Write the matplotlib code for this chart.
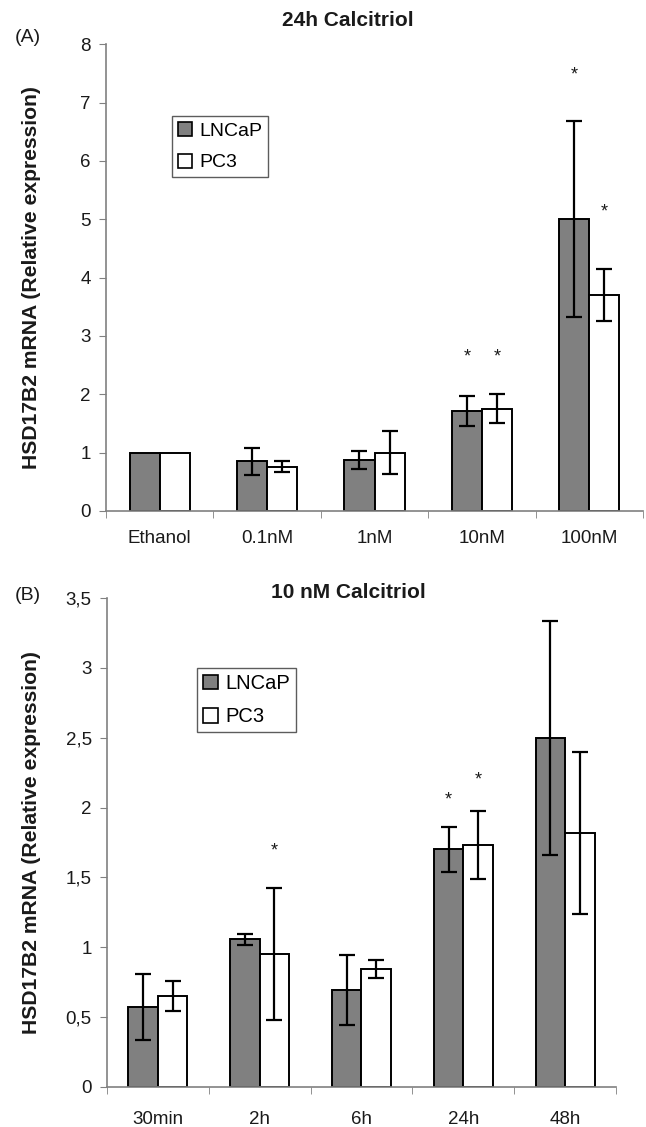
import numpy as np
import matplotlib
matplotlib.use("Agg")
import matplotlib.pyplot as plt

plt.rcParams['font.family'] = ['Liberation Sans', 'DejaVu Sans']

# (A) 24h calcitriol dose response
dose_labels = ["Ethanol", "0.1nM", "1nM", "10nM", "100nM"]
dose_lncap = [1.00, 0.85, 0.88, 1.71, 5.00]
dose_lncap_err = [0.0, 0.23, 0.155, 0.26, 1.68]
dose_pc3 = [1.00, 0.76, 1.00, 1.75, 3.70]
dose_pc3_err = [0.0, 0.09, 0.37, 0.25, 0.44]
# significance stars: (category index, series, height)
dose_stars = [(3, 0, 2.64), (3, 1, 2.64), (4, 0, 7.47), (4, 1, 5.13)]

# (B) 10 nM calcitriol time course
time_labels = ["30min", "2h", "6h", "24h", "48h"]
time_lncap = [0.57, 1.055, 0.69, 1.70, 2.50]
time_lncap_err = [0.235, 0.04, 0.25, 0.16, 0.84]
time_pc3 = [0.65, 0.95, 0.84, 1.73, 1.82]
time_pc3_err = [0.11, 0.475, 0.065, 0.245, 0.58]
time_stars = [(1, 1, 1.69), (3, 0, 2.055), (3, 1, 2.20)]

AXIS_GREY = "#808080"
TEXT_COL = "#1a1a1a"


def draw_panel(ax, labels, lncap, lncap_err, pc3, pc3_err, stars, width,
               ymax, yticks, yticklabels, legend_anchor, legend_size,
               label_x, xpad):
    x = np.arange(len(labels))
    ekw = dict(ecolor="black", elinewidth=1.6, capsize=5.5, capthick=1.6)
    ax.bar(x - width / 2, lncap, width, color="#808080", edgecolor="black",
           linewidth=1.4, label="LNCaP", zorder=2)
    ax.bar(x + width / 2, pc3, width, color="white", edgecolor="black",
           linewidth=1.4, label="PC3", zorder=2)
    # only draw error bars where there is spread
    for xs, vals, errs in ((x - width / 2, lncap, lncap_err),
                           (x + width / 2, pc3, pc3_err)):
        xs = np.asarray(xs)
        vals = np.asarray(vals)
        errs = np.asarray(errs)
        m = errs > 0
        ax.errorbar(xs[m], vals[m], yerr=errs[m], fmt="none", zorder=3, **ekw)

    for idx, series, h in stars:
        xpos = idx - width / 2 if series == 0 else idx + width / 2
        ax.text(xpos, h, "*", ha="center", va="center", fontsize=13,
                color=TEXT_COL)

    ax.set_xlim(-0.5, len(labels) - 0.5)
    ax.set_ylim(0, ymax)
    ax.set_xticks(x)
    ax.set_xticklabels(labels, fontsize=13.5, color=TEXT_COL)
    ax.tick_params(axis="x", which="major", length=0, pad=xpad)
    ax.set_xticks(np.arange(len(labels) + 1) - 0.5, minor=True)
    ax.tick_params(axis="x", which="minor", length=5, color=AXIS_GREY,
                   direction="out")
    ax.set_yticks(yticks)
    ax.set_yticklabels(yticklabels, fontsize=13.5, color=TEXT_COL)
    ax.tick_params(axis="y", length=5, color=AXIS_GREY, direction="out",
                   pad=6)

    for side in ("top", "right"):
        ax.spines[side].set_visible(False)
    for side in ("left", "bottom"):
        ax.spines[side].set_color(AXIS_GREY)
        ax.spines[side].set_linewidth(1.2)

    ax.set_ylabel("HSD17B2 mRNA (Relative expression)", fontsize=15.2,
                  fontweight="bold", color=TEXT_COL)
    ax.yaxis.set_label_coords(label_x, 0.5)

    leg = ax.legend(loc="upper left", bbox_to_anchor=legend_anchor,
                    borderaxespad=0, fancybox=False, fontsize=legend_size,
                    handlelength=0.75, handleheight=0.75, handletextpad=0.35,
                    labelspacing=0.7, borderpad=0.3)
    leg.get_frame().set_edgecolor("#333333")
    leg.get_frame().set_linewidth(1.0)
    for h in leg.legend_handles:
        h.set_linewidth(1.2)


fig = plt.figure(figsize=(6.46, 11.27), dpi=100)

ax_a = fig.add_axes([0.1641, 0.5466, 0.8313, 0.4141])
draw_panel(ax_a, dose_labels, dose_lncap, dose_lncap_err, dose_pc3,
           dose_pc3_err, dose_stars, 0.28, 8, range(9),
           [str(v) for v in range(9)], (0.123, 0.846), 14, -0.121, 14)

ax_b = fig.add_axes([0.1656, 0.0358, 0.7879, 0.4334])
b_ticks = np.arange(0, 3.51, 0.5)
b_labels = [("%g" % v).replace(".", ",") for v in b_ticks]
draw_panel(ax_b, time_labels, time_lncap, time_lncap_err, time_pc3,
           time_pc3_err, time_stars, 0.29, 3.5, b_ticks, b_labels,
           (0.177, 0.857), 14.5, -0.13, 17.5)

# panel titles and letters
fig.text(348 / 646, 1 - 21 / 1127, "24h Calcitriol", fontsize=15,
         fontweight="bold", ha="center", va="center", color=TEXT_COL)
fig.text(348 / 646, 1 - 593 / 1127, "10 nM Calcitriol", fontsize=15,
         fontweight="bold", ha="center", va="center", color=TEXT_COL)
fig.text(28 / 646, 1 - 38 / 1127, "(A)", fontsize=14, ha="center",
         va="center", color=TEXT_COL)
fig.text(28 / 646, 1 - 596 / 1127, "(B)", fontsize=14, ha="center",
         va="center", color=TEXT_COL)

fig.savefig("out.png", dpi=100)
